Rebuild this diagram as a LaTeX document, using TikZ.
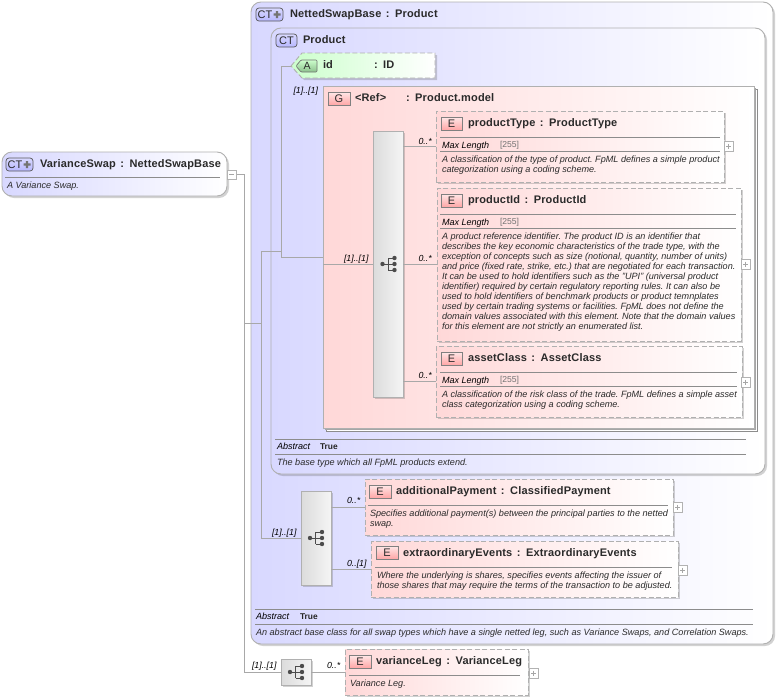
\documentclass[tikz,border=0pt]{standalone}
\usepackage{fontspec}
\setmainfont{Liberation Sans}
\usetikzlibrary{shadows,shapes.misc}
\definecolor{bluebg}{HTML}{D8D8FF}
\definecolor{redbg}{HTML}{FFD8D8}
\definecolor{greenbg}{HTML}{CCFFCC}
\definecolor{edge}{HTML}{B0B0B0}
\definecolor{ink}{HTML}{2A2A2A}
\definecolor{wire}{HTML}{A8A8A8}
\newfontfamily\ttl[LetterSpace=1.5,WordSpace=1.4]{Liberation Sans}
\tikzset{
  softshadow/.style={drop shadow={shadow xshift=2pt,shadow yshift=-2pt,opacity=.25,fill=black!70}},
  boxbase/.style={anchor=north west,inner sep=0pt,outer sep=0pt,minimum width=#1},
  ctbox/.style={rectangle,rounded corners=10pt,draw=edge,line width=.9pt,left color=bluebg,right color=white,softshadow},
  ebox/.style={rectangle,draw=edge,line width=.9pt,dash pattern=on 5pt off 2.5pt,left color=redbg,right color=white,softshadow},
  groupbox/.style={rectangle,draw=edge,line width=.8pt,left color=redbg,right color=white},
  seqbox/.style={rectangle,draw=edge,line width=.8pt,left color=black!14,right color=black!4,softshadow,anchor=north west,inner sep=0pt,outer sep=0pt},
  attrshape/.style={draw=edge,line width=.9pt,dash pattern=on 5pt off 2.5pt,left color=greenbg,right color=white},
  badge/.style={rectangle,anchor=north west,inner sep=0pt,outer sep=0pt,font=\fontsize{11}{11}\selectfont,text=ink},
  ebadge/.style={badge,draw=black!50,line width=.7pt,top color=redbg!60,bottom color=red!35!white,minimum width=21pt,minimum height=13pt},
  ctbadge/.style={badge,draw=black!65,line width=.7pt,rounded corners=3pt,top color=bluebg,bottom color=blue!28!white,minimum height=13pt},
  title/.style={anchor=base west,yshift=-4pt,inner sep=0pt,outer sep=0pt,font=\ttl\bfseries\fontsize{11}{11}\selectfont,text=ink},
  desc/.style={anchor=north west,yshift=-1.5pt,inner sep=0pt,outer sep=0pt,align=left,font=\frenchspacing\itshape\fontsize{9.1}{10}\selectfont,text=ink},
  mult/.style={anchor=base west,yshift=-3pt,inner sep=0pt,outer sep=0pt,font=\itshape\fontsize{8.8}{10}\selectfont,text=black},
  facet/.style={anchor=base west,yshift=-3pt,inner sep=0pt,outer sep=0pt,font=\itshape\fontsize{9.05}{10}\selectfont,text=black},
  facetval/.style={anchor=base west,yshift=-3pt,inner sep=0pt,outer sep=0pt,font=\fontsize{8.6}{10}\selectfont,text=black!55},
  truev/.style={anchor=base west,yshift=-3pt,inner sep=0pt,outer sep=0pt,font=\bfseries\fontsize{8.4}{10}\selectfont,text=black!85},
  rule/.style={draw=black!45,line width=.7pt},
  wireline/.style={draw=wire,line width=.8pt},
  pm/.style={rectangle,draw=black!30,fill=white,anchor=north west,inner sep=0pt,outer sep=0pt,minimum width=9pt,minimum height=10pt},
  pmsym/.style={draw=black!35,line width=.6pt},
  dotpart/.style={fill=black!70,draw=none},
  iconline/.style={draw=black!70,line width=.8pt}
}
\newcommand{\seqicon}[2]{%
  \draw[iconline] (#1-6,#2) -- (#1-1,#2) (#1-1,#2-6) -- (#1-1,#2+6) (#1-1,#2-6) -- (#1+5,#2-6) (#1-1,#2) -- (#1+5,#2) (#1-1,#2+6) -- (#1+5,#2+6);
  \fill[dotpart] (#1-6.5,#2) circle (2.2pt) (#1+5.5,#2-6) circle (2.2pt) (#1+5.5,#2) circle (2.2pt) (#1+5.5,#2+6) circle (2.2pt);
}
\newcommand{\plusat}[3]{% name x y
  \node[pm] (#1) at (#2,#3) {};
  \draw[pmsym] (#2+2,#3+5) -- (#2+7,#3+5) (#2+4.5,#3+2.5) -- (#2+4.5,#3+7.5);
}
\newcommand{\ctplus}[2]{% x y of centre
  \fill[black!55] (#1-1.2,#2-3.5) rectangle (#1+1.2,#2+3.5) (#1-3.5,#2-1.2) rectangle (#1+3.5,#2+1.2);
}
\begin{document}
\begin{tikzpicture}[x=1pt,y=-1pt]
\useasboundingbox (0,0) rectangle (777,699);
\fill[white] (0,0) rectangle (777,699);

% ---- outer boxes
\node[boxbase=522pt,minimum height=642pt,ctbox] (base) at (251,2) {};
\node[boxbase=494pt,minimum height=446pt,ctbox] (prod) at (271,28) {};
\node[boxbase=225pt,minimum height=44pt,ctbox] (root) at (2,152) {};

% ---- group with stacked edges
\draw[draw=black!45,line width=.7pt,fill=white] (326,89) rectangle (757,431);
\draw[draw=black!35,line width=.7pt,fill=white] (325,88) rectangle (755.5,429.5);
\node[boxbase=431pt,minimum height=342pt,groupbox] (grp) at (323,86) {};

% ---- attribute
\path[attrshape,drop shadow={shadow xshift=2pt,shadow yshift=-2pt,opacity=.25,fill=black!70}] (291,66) -- (302,53) -- (435,53) -- (435,78) -- (302,78) -- cycle;
\coordinate (idtip) at (291,66);

% ---- sequence boxes
\node[seqbox,minimum width=30pt,minimum height=266pt] (seqa) at (373,131) {};
\node[seqbox,minimum width=30pt,minimum height=94pt] (seqb) at (301,491) {};
\node[seqbox,minimum width=30pt,minimum height=26pt] (seqc) at (281,659) {};

% ---- element boxes
\node[boxbase=288pt,minimum height=71pt,ebox] (ptype) at (436,111) {};
\node[boxbase=304pt,minimum height=153pt,ebox] (pid) at (437,188) {};
\node[boxbase=306pt,minimum height=71pt,ebox] (aclass) at (436,346) {};
\node[boxbase=308pt,minimum height=56pt,ebox] (addpay) at (365,479) {};
\node[boxbase=307pt,minimum height=56pt,ebox] (extra) at (371,541) {};
\node[boxbase=183pt,minimum height=46pt,ebox] (vleg) at (345,649) {};

% ---- junction coordinates
\coordinate (trunk) at (244,323);
\coordinate (trunkb) at (261,323);
\coordinate (trunkc) at (281,251);

% ---- connectors
\draw[wireline] (root.east |- 0,174) ++(9,0) -- ++(8,0) coordinate (rootturn) -- (rootturn |- seqc.west) -- (seqc.west);
\draw[wireline] (trunk) -- (trunkb);
\draw[wireline] (trunkb |- 0,251) -- (trunkb |- seqb.west) -- (seqb.west);
\draw[wireline] (trunkb |- 0,251) -- (trunkc);
\draw[wireline] (idtip) -- (trunkc |- idtip) -- (trunkc |- 0,257) -- (grp.west |- 0,257);
\draw[wireline] (grp.west |- seqa.west) -- (seqa.west);
\draw[wireline] (seqa.east |- 0,146) -- (ptype.west |- 0,146);
\draw[wireline] (seqa.east |- pid.west) -- (pid.west);
\draw[wireline] (seqa.east |- 0,381) -- (aclass.west |- 0,381);
\draw[wireline] (seqb.east |- 0,507) -- (addpay.west |- 0,507);
\draw[wireline] (seqb.east |- 0,569) -- (extra.west |- 0,569);
\draw[wireline] (seqc.east) -- (vleg.west |- seqc.east);

% ---- sequence icons
\seqicon{389}{264}
\seqicon{316.5}{538}
\seqicon{296.5}{672}

% ---- root
\node[ctbadge,minimum width=27pt] (brt) at (6,158) {\hspace{-9pt}CT};
\ctplus{27}{164.5}
\node[title] (trt) at (40,163) {VarianceSwap : NettedSwapBase};
\draw[rule] (5,177) -- (220,177);
\node[desc] (drt) at (7,180) {A Variance Swap.};
\node[pm,minimum height=9pt] (mrt) at (227,170) {};
\draw[pmsym] (229,174.5) -- (234,174.5);

% ---- NettedSwapBase
\node[ctbadge,minimum width=27pt] (bbs) at (256,8) {\hspace{-9pt}CT};
\ctplus{277}{14.5}
\node[title] (tbs) at (290,13) {NettedSwapBase : Product};
\draw[rule] (255,609) -- (753,609);
\node[facet] (fbs) at (256,616.5) {Abstract};
\node[truev] (vbs) at (300,616) {True};
\draw[rule] (255,624) -- (753,624);
\node[desc] (dbs) at (256,627) {An abstract base class for all swap types which have a single netted leg, such as Variance Swaps, and Correlation Swaps.};

% ---- Product
\node[ctbadge,minimum width=21pt] (bpr) at (276,34) {CT};
\node[title] (tpr) at (303,39) {Product};
\draw[rule] (275,439) -- (746,439);
\node[facet] (fpr) at (277,446.5) {Abstract};
\node[truev] (vpr) at (320,446) {True};
\draw[rule] (275,454) -- (746,454);
\node[desc] (dpr) at (277,457) {The base type which all FpML products extend.};

% ---- id attribute
\draw[draw=black!55,line width=.7pt,top color=greenbg,bottom color=green!45!black!45!white,rounded corners=1pt] (296,66) -- (301,60) -- (317,60) -- (317,72) -- (301,72) -- cycle;
\node[inner sep=0pt,font=\fontsize{10.5}{11}\selectfont,text=ink] (bid) at (307,66) {A};
\node[title] (tid) at (323,64) {id};
\node[title] (cid) at (374,64) {: ID};

% ---- group
\node[ebadge,minimum width=22pt] (bgr) at (328,92) {G};
\node[title] (tgr) at (355,97) {<Ref>};
\node[title] (cgr) at (406,97) {: Product.model};
\node[mult] (mgr) at (293.5,90) {[1]..[1]};

% ---- productType
\node[ebadge] (bpt) at (441,117) {E};
\node[title] (tpt) at (468,122) {productType : ProductType};
\draw[rule] (440,137) -- (720,137);
\node[facet] (fpt) at (442,145) {Max Length};
\node[facetval] (vpt) at (500,144.5) {[255]};
\draw[rule] (440,151) -- (720,151);
\node[desc] (dpt) at (442,154) {A classification of the type of product. FpML defines a simple product\\categorization using a coding scheme.};
\plusat{ppt}{724}{141}
\node[mult] (mpt) at (418.5,141) {0..*};

% ---- productId
\node[ebadge] (bpi) at (441,194) {E};
\node[title] (tpi) at (468,199) {productId : ProductId};
\draw[rule] (440,214) -- (736,214);
\node[facet] (fpi) at (442,222) {Max Length};
\node[facetval] (vpi) at (500,221.5) {[255]};
\draw[rule] (440,228) -- (736,228);
\node[desc] (dpi) at (442,231) {A product reference identifier. The product ID is an identifier that\\describes the key economic characteristics of the trade type, with the\\exception of concepts such as size (notional, quantity, number of units)\\and price (fixed rate, strike, etc.) that are negotiated for each transaction.\\It can be used to hold identifiers such as the "UPI" (universal product\\identifier) required by certain regulatory reporting rules. It can also be\\used to hold identifiers of benchmark products or product temnplates\\used by certain trading systems or facilities. FpML does not define the\\domain values associated with this element. Note that the domain values\\for this element are not strictly an enumerated list.};
\plusat{ppi}{741}{259}
\node[mult] (mpi) at (418.5,258) {0..*};

% ---- assetClass
\node[ebadge] (bac) at (441,352) {E};
\node[title] (tac) at (468,357) {assetClass : AssetClass};
\draw[rule] (440,372) -- (737,372);
\node[facet] (fac) at (442,380) {Max Length};
\node[facetval] (vac) at (500,379.5) {[255]};
\draw[rule] (440,386) -- (737,386);
\node[desc] (dac) at (442,389) {A classification of the risk class of the trade. FpML defines a simple asset\\class categorization using a coding scheme.};
\plusat{pac}{741}{377}
\node[mult] (mac) at (418.5,375) {0..*};
\node[mult] (mgs) at (344,258) {[1]..[1]};

% ---- additionalPayment
\node[ebadge,minimum width=22pt] (bap) at (369,485) {E};
\node[title] (tap) at (396,490) {additionalPayment : ClassifiedPayment};
\draw[rule] (368,505) -- (668,505);
\node[desc] (dap) at (370,508) {Specifies additional payment(s) between the principal parties to the netted\\swap.};
\plusat{pap}{673}{502}
\node[mult] (map) at (347,500.5) {0..*};

% ---- extraordinaryEvents
\node[ebadge,minimum width=22pt] (bex) at (376,546) {E};
\node[title] (tex) at (403,552) {extraordinaryEvents : ExtraordinaryEvents};
\draw[rule] (375,567) -- (672,567);
\node[desc] (dex) at (377,570) {Where the underlying is shares, specifies events affecting the issuer of\\those shares that may require the terms of the transaction to be adjusted.};
\plusat{pex}{678}{565}
\node[mult] (mex) at (347,563) {0..[1]};
\node[mult] (mbs) at (272,532) {[1]..[1]};

% ---- varianceLeg
\node[ebadge,minimum width=22pt] (bvl) at (349,655) {E};
\node[title] (tvl) at (376,660) {varianceLeg : VarianceLeg};
\draw[rule] (349,675) -- (520,675);
\node[desc] (dvl) at (350,678) {Variance Leg.};
\plusat{pvl}{529}{668}
\node[mult] (mvl) at (327,665) {0..*};
\node[mult] (mcs) at (252,665) {[1]..[1]};
\end{tikzpicture}
\end{document}
